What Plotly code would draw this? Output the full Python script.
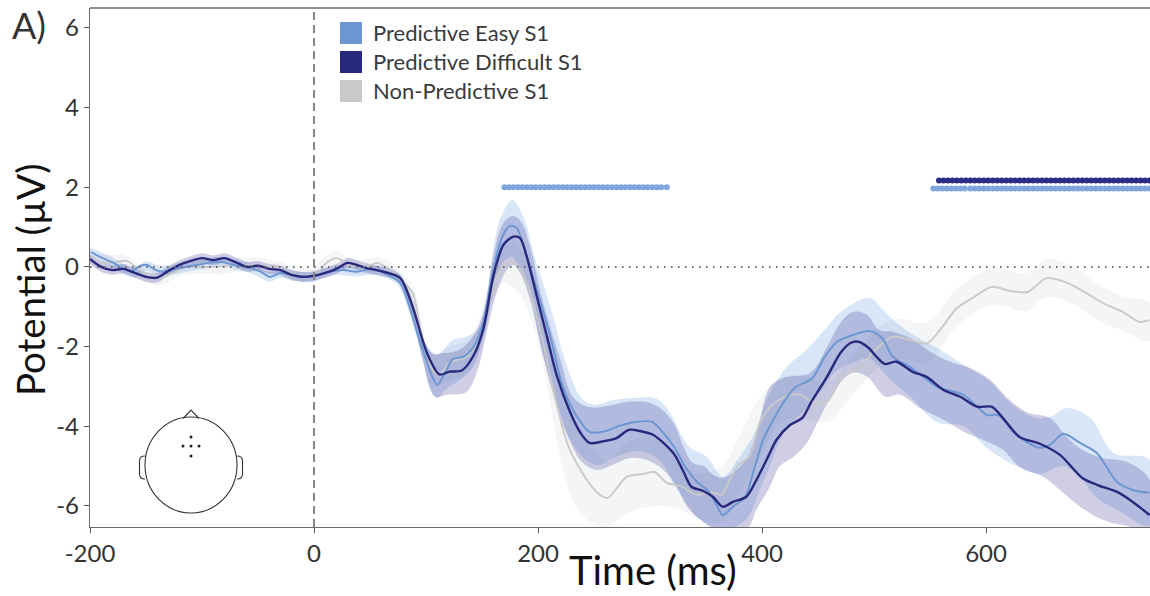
import plotly.graph_objects as go

W, H = 1150, 596
L, R, T, B = 90, 1150, 8, 527
FONT = "Lato"

tick_x = [-200, 0, 200, 400, 600]
tick_x_text = ["-200", "0", "200", "400", "600"]
tick_y = [-6, -4, -2, 0, 2, 4, 6]
tick_y_text = ["-6", "-4", "-2", "0", "2", "4", "6"]
names = ["Predictive Easy S1", "Predictive Difficult S1", "Non-Predictive S1"]

# ---- Predictive Difficult S1 (navy)
navy_t = [-200,-190,-180,-170,-160,-150,-140,-130,-120,-110,-100,-90,-80,-70,-60,-50,-40,-30,-20,-10,0,10,20,30,40,50,59,77,88,101,112,121,132,142,151,160,169,178,184,190,199,208,217,229,238,246,258,270,281,291,303,312,322,330,337,347,356,365,374,386,395,404,413,425,436,444,458,470,479,486,495,503,510,520,535,547,562,577,592,605,615,630,648,666,686,699,717,731,746]
navy_v = [0.2,0.0,-0.08,-0.05,-0.15,-0.25,-0.27,-0.1,0.05,0.15,0.22,0.17,0.22,0.12,0.0,0.03,-0.05,-0.08,-0.2,-0.25,-0.22,-0.15,-0.05,0.1,0.03,-0.05,-0.1,-0.28,-1.0,-2.17,-2.7,-2.63,-2.6,-2.25,-1.58,-0.25,0.55,0.76,0.72,0.25,-0.75,-1.75,-2.75,-3.67,-4.17,-4.42,-4.38,-4.3,-4.09,-4.12,-4.22,-4.42,-4.72,-5.15,-5.52,-5.62,-5.77,-6.02,-5.9,-5.77,-5.35,-4.85,-4.34,-3.97,-3.79,-3.39,-2.76,-2.16,-1.91,-1.88,-2.03,-2.28,-2.44,-2.38,-2.64,-2.76,-3.09,-3.26,-3.51,-3.51,-3.79,-4.27,-4.44,-4.72,-5.3,-5.47,-5.65,-5.9,-6.23]

# ---- Predictive Easy S1 (blue)
blue_t = [-199,-191,-179,-170,-164,-155,-149,-142,-135,-120,-105,-84,-72,-60,-48,-39,-30,-19,-1,14,26,38,53,68,77,97,110,117,124,133,142,151,160,168,175,181,188,199,211,222,235,246,258,273,288,302,312,322,331,342,351,358,365,374,385,392,401,407,419,429,445,456,467,481,496,507,517,532,544,556,580,592,601,611,627,648,657,669,684,699,717,731,746]
blue_v = [0.37,0.25,0.1,-0.05,-0.12,0.03,0.05,-0.07,-0.12,-0.03,0.05,0.13,0.05,0.0,-0.12,-0.25,-0.15,-0.2,-0.25,-0.12,-0.08,-0.12,-0.05,-0.23,-0.4,-2.08,-2.96,-2.66,-2.31,-2.26,-2.03,-1.41,-0.08,0.75,1.03,0.98,0.43,-0.58,-1.75,-3.0,-3.77,-4.14,-4.14,-3.99,-3.89,-3.89,-4.17,-4.54,-5.0,-5.4,-5.6,-5.9,-6.23,-6.02,-5.77,-5.17,-4.34,-4.0,-3.41,-3.04,-2.79,-2.26,-1.88,-1.71,-1.61,-1.78,-2.26,-2.51,-2.76,-3.01,-3.21,-3.51,-3.72,-3.72,-4.22,-4.54,-4.47,-4.19,-4.42,-4.67,-5.4,-5.6,-5.67]

# ---- Non-Predictive S1 (gray)
gray_t = [-199,-188,-176,-167,-158,-149,-137,-126,-113,-90,-69,-51,-30,-15,1,11,20,32,47,56,68,78,88,97,106,112,121,136,146,154,163,170,177,184,193,204,213,226,238,253,262,269,279,294,304,315,327,342,354,364,371,379,389,398,409,425,434,446,458,472,487,503,517,532,547,559,574,588,605,621,637,654,675,704,722,737,746]
gray_v = [0.25,0.1,0.13,0.15,-0.03,-0.2,-0.28,-0.15,0.0,0.0,0.05,0.05,-0.05,-0.2,-0.2,0.1,0.22,0.05,0.0,0.1,-0.08,-0.33,-0.65,-1.83,-2.59,-2.71,-2.41,-2.26,-1.91,-1.15,-0.25,0.05,0.1,-0.03,-0.65,-1.83,-3.0,-4.42,-5.1,-5.67,-5.8,-5.6,-5.27,-5.2,-5.15,-5.42,-5.5,-5.72,-5.65,-5.72,-5.35,-4.97,-4.75,-3.92,-3.46,-3.21,-3.21,-3.39,-3.39,-2.76,-2.51,-2.03,-1.75,-1.83,-1.93,-1.58,-1.03,-0.78,-0.5,-0.6,-0.63,-0.28,-0.43,-0.9,-1.13,-1.38,-1.33]

# ---- uncertainty bands
base_t = [-200,-190,-180,-170,-160,-150,-140,-130,-120,-110,-100,-90,-80,-70,-60,-50,-40,-30,-20,-10,0,10,20,30,40,50,60,70]

navy_up_t = base_t + [77,88,97,106,115,130,142,151,160,169,178,185,193,204,220,231,244,262,279,297,309,321,330,338,349,356,365,374,387,398,407,419,443,458,470,481,494,504,517,535,550,568,586,604,619,636,657,672,686,704,726,746]
navy_up_v = [0.32,0.12,0.04,0.07,-0.03,-0.13,-0.15,0.02,0.17,0.27,0.34,0.29,0.34,0.24,0.12,0.15,0.07,0.04,-0.08,-0.13,-0.1,-0.03,0.07,0.22,0.15,0.07,0.02,-0.05,
             -0.2,-0.8,-1.8,-2.18,-2.17,-2.08,-1.75,-1.15,0.25,1.1,1.28,1.13,0.5,-0.83,-2.33,-3.26,-3.51,-3.49,-3.39,-3.39,-3.54,-3.92,-4.52,-4.92,-5.02,-5.22,-5.3,-5.17,-4.77,-3.84,-3.01,-2.79,-2.66,-2.01,-1.41,-1.13,-1.2,-1.58,-1.63,-1.83,-2.13,-2.38,-2.54,-2.84,-3.29,-3.64,-3.79,-4.27,-4.59,-4.8,-4.9,-5.35]
navy_lo_t = base_t + [77,88,97,108,118,136,146,154,163,172,178,184,193,204,217,229,240,253,267,282,297,312,324,333,345,356,387,395,407,416,428,440,452,467,481,494,510,523,541,562,580,597,615,630,651,666,684,704,722,746]
navy_lo_v = [0.08,-0.12,-0.2,-0.17,-0.27,-0.37,-0.39,-0.22,-0.07,0.03,0.1,0.05,0.1,0.0,-0.12,-0.09,-0.17,-0.2,-0.32,-0.37,-0.34,-0.27,-0.17,-0.02,-0.09,-0.17,-0.22,-0.3,
             -0.45,-1.25,-2.33,-3.26,-3.21,-3.14,-2.59,-1.66,-0.65,-0.08,0.05,-0.15,-0.83,-2.16,-3.51,-4.42,-4.92,-5.1,-4.97,-4.8,-4.85,-5.1,-5.52,-6.02,-6.35,-6.55,-6.55,-6.1,-5.52,-5.0,-4.77,-4.42,-3.77,-3.01,-2.66,-2.76,-3.26,-3.21,-3.54,-3.84,-4.14,-4.34,-4.59,-5.02,-5.27,-5.6,-6.02,-6.35,-6.48,-6.55]

blue_up_t = base_t + [77,97,110,124,133,146,153,160,166,177,187,197,211,226,238,249,267,285,306,318,327,336,351,365,378,395,404,422,440,458,470,496,508,520,538,556,580,604,621,642,657,672,693,714,746]
blue_up_v = [0.49,0.37,0.24,0.07,-0.03,0.14,0.05,0.04,0.09,0.14,0.18,0.24,0.25,0.17,0.12,0.0,-0.13,-0.03,-0.1,-0.13,-0.13,-0.02,0.04,0.02,0.0,0.05,0.0,-0.1,
             -0.2,-1.8,-2.2,-1.83,-1.78,-1.58,-1.0,0.43,1.18,1.68,1.25,0.25,-1.0,-2.51,-3.26,-3.46,-3.34,-3.29,-3.31,-3.67,-4.17,-4.54,-4.77,-5.27,-4.85,-4.09,-3.34,-2.51,-2.08,-1.51,-1.13,-0.78,-1.08,-1.41,-1.76,-2.03,-2.46,-2.89,-3.39,-3.77,-3.77,-3.54,-3.79,-4.67,-4.85]
blue_lo_t = base_t + [77,97,103,110,117,130,142,151,160,169,177,184,193,204,217,229,240,253,273,288,303,312,322,331,342,351,358,374,387,398,407,419,445,467,481,496,507,517,532,556,580,601,627,648,669,684,699,717,746]
blue_lo_v = [0.25,0.13,0.0,-0.17,-0.27,-0.1,-0.19,-0.2,-0.15,-0.1,-0.06,0.0,0.01,-0.07,-0.12,-0.24,-0.37,-0.27,-0.34,-0.37,-0.37,-0.26,-0.2,-0.22,-0.24,-0.19,-0.24,-0.35,
             -0.55,-2.33,-3.0,-3.29,-3.09,-2.84,-2.51,-1.83,-0.65,0.13,0.25,-0.08,-0.75,-2.16,-3.42,-4.34,-4.77,-4.97,-4.72,-4.62,-4.72,-4.97,-5.5,-5.87,-6.27,-6.45,-6.55,-6.55,-6.3,-5.6,-5.0,-4.2,-3.4,-2.6,-2.4,-2.3,-2.6,-2.9,-3.25,-3.9,-4.0,-4.55,-5.0,-5.2,-5.0,-5.3,-5.8,-6.1,-6.5]

gray_up_t = base_t + [78,88,97,106,121,136,146,154,163,170,177,184,193,204,226,238,253,262,279,304,327,342,364,379,398,416,434,458,487,517,547,574,605,637,654,675,704,722,746]
gray_up_v = [0.43,0.31,0.3,0.33,0.13,-0.02,-0.1,-0.02,0.13,0.18,0.18,0.18,0.18,0.23,0.23,0.23,0.18,0.13,0.03,-0.02,-0.02,0.28,0.4,0.25,0.18,0.23,0.23,0.08,
             -0.15,-0.45,-1.5,-2.2,-2.0,-1.85,-1.4,-0.65,0.2,0.5,0.6,0.45,-0.1,-1.3,-3.3,-4.1,-4.7,-4.9,-4.4,-4.3,-4.9,-5.2,-5.0,-4.3,-3.3,-2.8,-2.7,-2.9,-2.0,-1.3,-1.4,-0.55,-0.05,-0.15,0.2,0.05,-0.5,-0.75,-0.9]
gray_lo_t = base_t + [78,88,97,106,121,136,146,154,163,170,177,184,193,204,226,238,253,262,279,304,327,342,364,379,398,416,434,458,487,517,547,574,605,637,654,675,704,722,746]
gray_lo_v = [0.07,-0.05,-0.06,-0.03,-0.23,-0.38,-0.46,-0.38,-0.23,-0.18,-0.18,-0.18,-0.18,-0.13,-0.13,-0.13,-0.18,-0.23,-0.33,-0.38,-0.38,-0.08,0.04,-0.11,-0.18,-0.13,-0.13,-0.28,
             -0.5,-0.95,-2.2,-3.0,-2.85,-2.7,-2.2,-1.3,-0.65,-0.4,-0.5,-0.7,-1.25,-2.4,-5.5,-6.2,-6.5,-6.55,-6.2,-6.0,-6.1,-6.3,-6.4,-5.7,-4.8,-3.9,-3.8,-3.9,-3.0,-2.3,-2.4,-1.5,-0.95,-1.1,-0.75,-0.9,-1.4,-1.6,-1.85]

# ---- significance markers
sig_easy_t1 = [170,174,178,182,186,190,194,198,202,206,210,214,218,222,226,230,234,238,242,246,250,254,258,262,266,270,274,278,282,286,290,294,298,302,306,310,315]
sig_easy_v1 = [2.0] * len(sig_easy_t1)
sig_easy_t2 = [553,557,561,565,569,573,577,581,586,590,594,598,602,606,610,614,618,622,626,630,634,638,642,646,650,654,658,662,666,670,674,678,682,686,690,694,698,702,706,710,714,718,722,726,730,734,738,742,746]
sig_easy_v2 = [1.97] * len(sig_easy_t2)
sig_diff_t = [558,562,566,570,574,578,582,586,590,594,598,602,606,610,614,618,622,626,630,634,638,642,646,650,654,658,662,666,670,674,678,682,686,690,694,698,702,706,710,714,718,722,726,730,734,738,742,746]
sig_diff_v = [2.17] * len(sig_diff_t)

for a, b in [(navy_t, navy_v), (blue_t, blue_v), (gray_t, gray_v), (navy_up_t, navy_up_v), (navy_lo_t, navy_lo_v),
             (blue_up_t, blue_up_v), (blue_lo_t, blue_lo_v), (gray_up_t, gray_up_v), (gray_lo_t, gray_lo_v)]:
    assert len(a) == len(b), (len(a), len(b), a[:2])

C_NAVY, C_BLUE, C_GRAY = "#28297c", "#6c97d3", "#c9c9c9"
BANDS = {"navy": "rgba(60,50,145,0.24)", "blue": "rgba(90,150,220,0.24)", "gray": "rgba(170,185,200,0.14)"}

fig = go.Figure()


def band(up_t, up_v, lo_t, lo_v, color):
    fig.add_trace(go.Scatter(x=up_t + lo_t[::-1], y=up_v + lo_v[::-1], mode="lines", fill="toself",
                             fillcolor=color, line=dict(width=0), line_shape="spline", hoverinfo="skip", showlegend=False))


band(gray_up_t, gray_up_v, gray_lo_t, gray_lo_v, BANDS["gray"])
band(blue_up_t, blue_up_v, blue_lo_t, blue_lo_v, BANDS["blue"])
band(navy_up_t, navy_up_v, navy_lo_t, navy_lo_v, BANDS["navy"])

for t, v, c, w, n in [(gray_t, gray_v, C_GRAY, 1.9, names[2]), (blue_t, blue_v, C_BLUE, 2.0, names[0]), (navy_t, navy_v, C_NAVY, 2.4, names[1])]:
    fig.add_trace(go.Scatter(x=t, y=v, mode="lines", name=n, line=dict(color=c, width=w, shape="spline", smoothing=0.8), showlegend=False))

for t, v, c in [(sig_easy_t1, sig_easy_v1, "#7ea5dc"), (sig_easy_t2, sig_easy_v2, "#7ea5dc"), (sig_diff_t, sig_diff_v, "#2b2c85")]:
    fig.add_trace(go.Scatter(x=t, y=v, mode="markers", marker=dict(color=c, size=6, line=dict(width=0)), showlegend=False, cliponaxis=True))


def px(x):
    return (x - L) / (R - L)


def py(y):
    return (B - y) / (B - T)


shapes = [
    dict(type="line", xref="x", yref="paper", x0=0, x1=0, y0=0, y1=1, line=dict(color="#858585", width=2, dash="8px,5px"), layer="above"),
    dict(type="line", xref="paper", yref="y", x0=0, x1=1, y0=0, y1=0, line=dict(color="#6e6e6e", width=2, dash="1.6px,5.4px"), layer="above"),
    dict(type="line", xref="paper", yref="paper", x0=0, x1=1, y0=1, y1=1, line=dict(color="#6a6a6a", width=1.4), layer="above"),
]
annotations = [
    dict(text="A)", x=px(10), y=py(25), xref="paper", yref="paper", xanchor="left", yanchor="middle", showarrow=False,
         font=dict(family=FONT, size=36, color="#333333")),
    dict(text="Time (ms)", x=px(653), y=py(570), xref="paper", yref="paper", xanchor="center", yanchor="middle", showarrow=False,
         font=dict(family=FONT, size=40, color="#111111")),
    dict(text="Potential (µV)", x=px(30), y=py(280), xref="paper", yref="paper", xanchor="center", yanchor="middle", showarrow=False,
         textangle=-90, font=dict(family=FONT, size=38.5, color="#111111")),
]

# legend swatches and labels
for name, color, y0, y1 in zip(names, ["#6c97d3", "#28297c", "#c9c9c9"], [22, 51, 80], [44, 73, 102]):
    shapes.append(dict(type="rect", xref="paper", yref="paper", x0=px(340), x1=px(362), y0=py(y0), y1=py(y1), fillcolor=color, line=dict(width=0), layer="above"))
    annotations.append(dict(text=name, x=px(371), y=py((y0 + y1) / 2 - 0.5), xref="paper", yref="paper", xanchor="left", yanchor="middle", showarrow=False,
                            font=dict(family=FONT, size=22, color="#3a3a3a")))

# scalp map inset
HEAD = dict(color="#333333", width=1.1)
shapes.append(dict(type="circle", xref="paper", yref="paper", x0=px(145), x1=px(237), y0=py(417), y1=py(513), line=HEAD, layer="above"))
shapes.append(dict(type="path", xref="paper", yref="paper", layer="above", line=HEAD,
                   path=f"M {px(183)} {py(418.5)} L {px(191)} {py(410)} L {px(199)} {py(418.5)}"))
for xo, xe in [(145, 139.5), (237, 242.5)]:
    shapes.append(dict(type="path", xref="paper", yref="paper", layer="above", line=HEAD,
                       path=f"M {px(xo)} {py(456)} Q {px(xe)} {py(456)} {px(xe)} {py(461)} L {px(xe)} {py(474)} Q {px(xe)} {py(479)} {px(xo)} {py(479)}"))
for cx, cy in [(191, 437), (183, 446), (191, 446), (199, 446), (191, 456)]:
    shapes.append(dict(type="circle", xref="paper", yref="paper", x0=px(cx - 1.5), x1=px(cx + 1.5), y0=py(cy - 1.5), y1=py(cy + 1.5), fillcolor="#222222", line=dict(width=0), layer="above"))

axis_common = dict(showgrid=False, zeroline=False, ticks="outside", ticklen=5, tickwidth=1.2, tickcolor="#555555",
                   showline=True, linecolor="#6a6a6a", linewidth=1.4, mirror=False,
                   tickfont=dict(family=FONT, size=24, color="#333333"))

fig.update_layout(
    width=W, height=H, autosize=False,
    margin=dict(l=L, r=W - R, t=T, b=H - B),
    paper_bgcolor="white", plot_bgcolor="white", showlegend=False,
    shapes=shapes, annotations=annotations,
    xaxis=dict(range=[-200, 746.4], tickmode="array", tickvals=tick_x, ticktext=tick_x_text, **axis_common),
    yaxis=dict(range=[-6.53, 6.5], tickmode="array", tickvals=tick_y, ticktext=tick_y_text, **axis_common),
)

fig.write_html("out.html", post_script="document.body.style.margin='0';", config={"displayModeBar": False})
